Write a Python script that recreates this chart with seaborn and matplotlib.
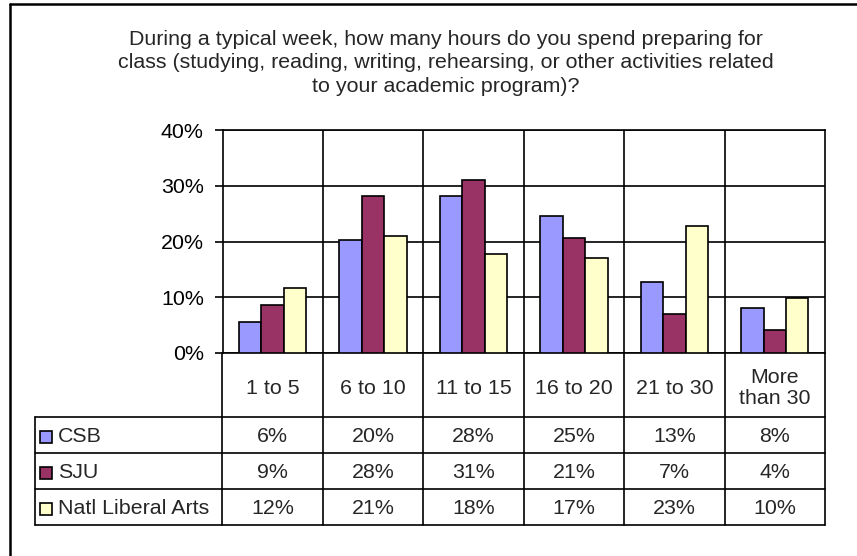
import numpy as np
import pandas as pd
import matplotlib.pyplot as plt
from matplotlib.patches import Rectangle
from matplotlib.ticker import FuncFormatter
import seaborn as sns

# Data (percent of students)
categories = ["1 to 5", "6 to 10", "11 to 15", "16 to 20", "21 to 30", "More\nthan 30"]
schools = ["CSB", "SJU", "Natl Liberal Arts"]
csb = [5.6, 20.3, 28.2, 24.6, 12.8, 8.1]
sju = [8.6, 28.2, 31.0, 20.7, 7.0, 4.2]
natl = [11.7, 21.0, 17.8, 17.1, 22.8, 9.8]
colors = ["#9999FF", "#993366", "#FFFFCC"]
y_ticks = [0, 10, 20, 30, 40]
title = ("During a typical week, how many hours do you spend preparing for\n"
         "class (studying, reading, writing, rehearsing, or other activities related\n"
         "to your academic program)?")

series = [csb, sju, natl]
df = pd.DataFrame({
    "cat": categories * len(schools),
    "school": np.repeat(schools, len(categories)),
    "val": csb + sju + natl,
})

sns.set_style("white")
plt.rcParams['font.family'] = ['Liberation Sans', 'DejaVu Sans']
fs = 15.4
lw = 1.2

# layout in pixels
W, H = 857, 556
L, R, T, B = 222.5, 825, 130, 353
head_b = 417
row_h = 36
tab_l = 35

fig = plt.figure(figsize=(W / 100, H / 100), dpi=100)

ax = fig.add_axes([L / W, 1 - B / H, (R - L) / W, (B - T) / H])
sns.barplot(data=df, x="cat", y="val", hue="school", palette=colors,
            width=0.67, edgecolor="black", linewidth=lw, saturation=1,
            legend=False, ax=ax, zorder=3)
ax.set_ylim(0, 40)
ax.set_xlim(-0.5, len(categories) - 0.5)
ax.set_yticks(y_ticks)
ax.yaxis.set_major_formatter(FuncFormatter(lambda v, p: f"{v:.0f}%"))
ax.set_xticks([])
ax.set_xlabel("")
ax.set_ylabel("")
ax.set_axisbelow(True)
ax.grid(axis="y", color="black", linewidth=lw)
for i in range(len(categories) - 1):
    ax.axvline(i + 0.5, color="black", linewidth=lw, zorder=1)
for s in ax.spines.values():
    s.set_visible(True)
    s.set_color("black")
    s.set_linewidth(lw)
ax.tick_params(axis="y", left=True, length=5.5, width=lw, pad=8,
               labelsize=fs, colors="black")

# overlay in pixel coordinates for the data table and the frame
ov = fig.add_axes([0, 0, 1, 1])
ov.set_xlim(0, W)
ov.set_ylim(H, 0)
ov.axis("off")
ov.patch.set_visible(False)

# chart frame
ov.plot([10, 10], [H, 4], color="black", linewidth=1.8)
ov.plot([10, W], [4, 4], color="black", linewidth=1.8)

ov.text(446, 63, title, ha="center", va="center", fontsize=fs,
        linespacing=1.28)

colw = (R - L) / len(categories)
xs = [L + i * colw for i in range(len(categories) + 1)]
tab_b = head_b + row_h * len(schools)
for x in xs:
    ov.plot([x, x], [B, tab_b], color="black", linewidth=lw)
for k in range(len(schools) + 1):
    y = head_b + k * row_h
    ov.plot([tab_l, R], [y, y], color="black", linewidth=lw)
ov.plot([tab_l, tab_l], [head_b, tab_b], color="black", linewidth=lw)

for i, c in enumerate(categories):
    ov.text((xs[i] + xs[i + 1]) / 2, 388, c, ha="center", va="center",
            fontsize=fs, linespacing=1.15)

for k, (name, vals) in enumerate(zip(schools, series)):
    yc = head_b + k * row_h + row_h / 2 + 1.5
    ov.add_patch(Rectangle((40.5, yc - 6), 12, 12, facecolor=colors[k],
                           edgecolor="black", linewidth=1.2))
    ov.text(58, yc, name, ha="left", va="center", fontsize=fs)
    for i, v in enumerate(vals):
        ov.text((xs[i] + xs[i + 1]) / 2, yc, f"{int(v + 0.5)}%",
                ha="center", va="center", fontsize=fs)

fig.savefig("out.png", dpi=100)
